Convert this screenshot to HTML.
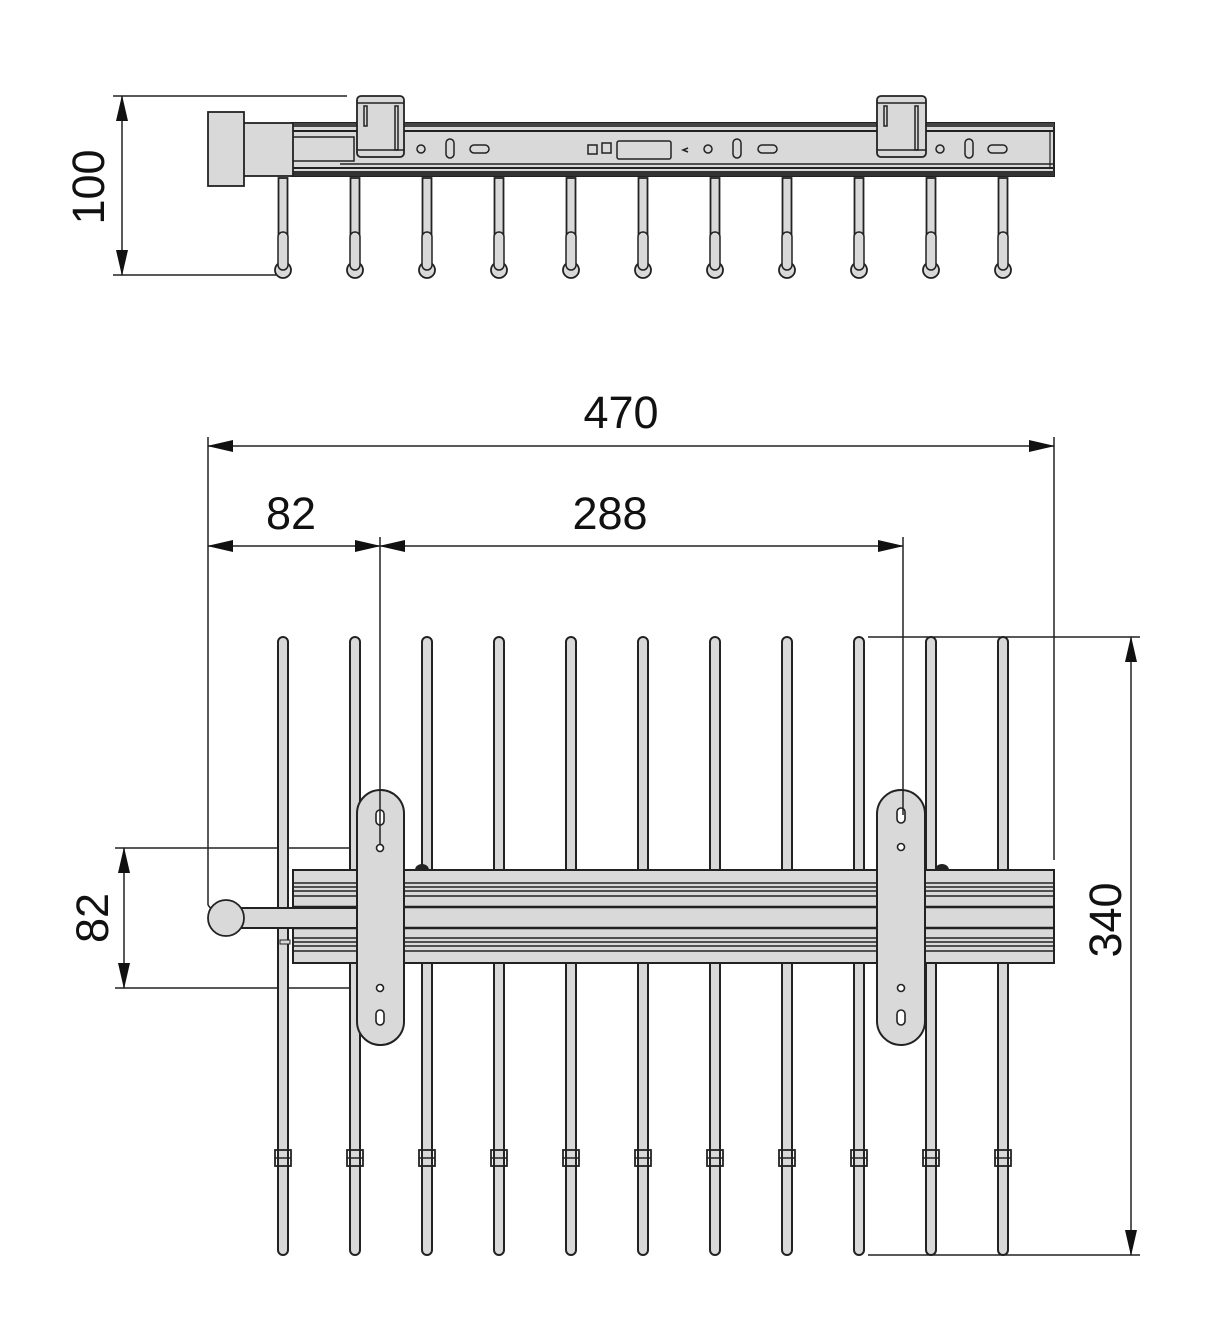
<!DOCTYPE html>
<html><head><meta charset="utf-8"><style>
html,body{margin:0;padding:0;background:#fff;}
svg{display:block;}
text{font-family:"Liberation Sans","DejaVu Sans",sans-serif;font-size:45px;fill:#111;}
</style></head><body>
<svg width="1223" height="1344" viewBox="0 0 1223 1344" xmlns="http://www.w3.org/2000/svg">
<defs>
  <g id="rodB">
    <rect x="-5" y="637" width="10" height="618" rx="5" fill="#d9d9d9" stroke="#222" stroke-width="2"/>
    <rect x="-8" y="1150" width="16" height="16" fill="none" stroke="#222" stroke-width="1.8"/>
    <line x1="-8" y1="1158" x2="8" y2="1158" stroke="#222" stroke-width="1.5"/>
    <rect x="-6" y="722" width="2" height="4" fill="#222"/>
    <rect x="4" y="722" width="2" height="4" fill="#222"/>
  </g>
  <g id="rodT">
    <rect x="-4.5" y="178" width="9" height="92" fill="#d9d9d9" stroke="#222" stroke-width="1.8"/>
    <circle cx="0" cy="270" r="8" fill="#d9d9d9" stroke="#222" stroke-width="1.8"/>
    <rect x="-5" y="232" width="10" height="38" rx="5" fill="#d9d9d9" stroke="#222" stroke-width="1.5"/>
  </g>
  <marker id="ar" markerWidth="26" markerHeight="12" refX="25" refY="6" orient="auto-start-reverse" markerUnits="userSpaceOnUse">
    <path d="M0 0 L26 6 L0 12 Z" fill="#111"/>
  </marker>
</defs>

<!-- ===== TOP VIEW ===== -->
<g stroke="#222" stroke-width="1.5">
  <line x1="113" y1="96" x2="347" y2="96"/>
  <line x1="113" y1="275" x2="276" y2="275"/>
  <line x1="122" y1="96" x2="122" y2="275" marker-start="url(#ar)" marker-end="url(#ar)"/>
</g>
<text transform="translate(104,187) rotate(-90)" text-anchor="middle">100</text>

<use href="#rodT" x="283"/><use href="#rodT" x="355"/><use href="#rodT" x="427"/><use href="#rodT" x="499"/>
<use href="#rodT" x="571"/><use href="#rodT" x="643"/><use href="#rodT" x="715"/><use href="#rodT" x="787"/>
<use href="#rodT" x="859"/><use href="#rodT" x="931"/><use href="#rodT" x="1003"/>

<!-- rail top view -->
<rect x="292" y="123" width="762" height="53" fill="#d9d9d9" stroke="#222" stroke-width="2"/>
<rect x="292" y="123" width="762" height="4" fill="#444"/>
<line x1="292" y1="131" x2="1054" y2="131" stroke="#222" stroke-width="2"/>
<line x1="340" y1="164" x2="1054" y2="164" stroke="#222" stroke-width="1.5"/>
<line x1="292" y1="168" x2="1054" y2="168" stroke="#222" stroke-width="2"/>
<rect x="292" y="171" width="762" height="5" fill="#333"/>
<rect x="292" y="137" width="62" height="24" fill="#d9d9d9" stroke="#222" stroke-width="1.5"/>
<line x1="1050" y1="131" x2="1050" y2="168" stroke="#222" stroke-width="1.2"/>
<rect x="243" y="123" width="50" height="53" fill="#d9d9d9" stroke="#222" stroke-width="1.8"/>
<rect x="208" y="112" width="36" height="74" fill="#d9d9d9" stroke="#222" stroke-width="1.8"/>
<!-- clips -->
<g fill="#d9d9d9" stroke="#222" stroke-width="1.8">
  <rect x="357" y="96" width="47" height="61" rx="4"/>
  <rect x="877" y="96" width="49" height="61" rx="4"/>
</g>
<g stroke="#222" stroke-width="1.5" fill="none">
  <line x1="357" y1="103" x2="404" y2="103"/><line x1="877" y1="103" x2="926" y2="103"/>
  <line x1="357" y1="150" x2="404" y2="150"/><line x1="877" y1="150" x2="926" y2="150"/>
  <rect x="364" y="106" width="3" height="20"/><rect x="395" y="106" width="3" height="44"/>
  <rect x="884" y="106" width="3" height="20"/><rect x="915" y="106" width="3" height="44"/>
  <circle cx="421" cy="149" r="4"/><rect x="446" y="139" width="8" height="19" rx="4"/><rect x="470" y="145" width="19" height="8" rx="4"/>
  <circle cx="708" cy="149" r="4"/><rect x="733" y="139" width="8" height="19" rx="4"/><rect x="758" y="145" width="19" height="8" rx="4"/>
  <circle cx="940" cy="149" r="4"/><rect x="965" y="139" width="8" height="19" rx="4"/><rect x="988" y="145" width="19" height="8" rx="4"/>
  <rect x="588" y="145" width="9" height="9"/><rect x="602" y="143" width="9" height="10"/>
  <rect x="617" y="141" width="54" height="18" rx="2"/>
  <path d="M688 148 L683 150 L688 152"/>
</g>

<!-- ===== BOTTOM VIEW ===== -->
<g stroke="#222" stroke-width="1.5" fill="none">
  <line x1="208" y1="437" x2="208" y2="905"/>
  <line x1="208" y1="905" x2="212" y2="910"/>
  <line x1="1054" y1="437" x2="1054" y2="860"/>
  <line x1="208" y1="446" x2="1054" y2="446" marker-start="url(#ar)" marker-end="url(#ar)"/>
  <line x1="208" y1="546" x2="380" y2="546" marker-start="url(#ar)" marker-end="url(#ar)"/>
  <line x1="380" y1="546" x2="903" y2="546" marker-start="url(#ar)" marker-end="url(#ar)"/>
  <line x1="380" y1="537" x2="380" y2="845"/>
  <line x1="903" y1="537" x2="903" y2="815"/>
  <line x1="868" y1="637" x2="1140" y2="637"/>
  <line x1="868" y1="1255" x2="1140" y2="1255"/>
  <line x1="1131" y1="637" x2="1131" y2="1255" marker-start="url(#ar)" marker-end="url(#ar)"/>
  <line x1="115" y1="848" x2="380" y2="848"/>
  <line x1="115" y1="988" x2="380" y2="988"/>
  <line x1="124" y1="848" x2="124" y2="988" marker-start="url(#ar)" marker-end="url(#ar)"/>
</g>
<text x="621" y="428" text-anchor="middle">470</text>
<text x="291" y="529" text-anchor="middle">82</text>
<text x="610" y="529" text-anchor="middle">288</text>
<text transform="translate(1121,920) rotate(-90)" text-anchor="middle">340</text>
<text transform="translate(108,918) rotate(-90)" text-anchor="middle">82</text>

<use href="#rodB" x="283"/><use href="#rodB" x="355"/><use href="#rodB" x="427"/><use href="#rodB" x="499"/>
<use href="#rodB" x="571"/><use href="#rodB" x="643"/><use href="#rodB" x="715"/><use href="#rodB" x="787"/>
<use href="#rodB" x="859"/><use href="#rodB" x="931"/><use href="#rodB" x="1003"/>

<!-- rail -->
<rect x="293" y="870" width="761" height="93" fill="#d9d9d9" stroke="#222" stroke-width="2"/>
<g stroke="#222" stroke-width="1.6">
  <line x1="293" y1="883" x2="1054" y2="883"/><line x1="293" y1="887" x2="1054" y2="887"/>
  <line x1="293" y1="891" x2="1054" y2="891"/><line x1="293" y1="896" x2="1054" y2="896"/>
  <line x1="293" y1="907" x2="1054" y2="907" stroke-width="2.5"/>
  <line x1="293" y1="928" x2="1054" y2="928" stroke-width="2.5"/>
  <line x1="293" y1="938" x2="1054" y2="938"/><line x1="293" y1="942" x2="1054" y2="942"/>
  <line x1="293" y1="946" x2="1054" y2="946"/><line x1="293" y1="951" x2="1054" y2="951"/>
</g>
<rect x="280" y="940" width="10" height="4" fill="#d9d9d9" stroke="#222" stroke-width="1"/>
<path d="M415 870 A7 6 0 0 1 429 870 Z" fill="#222"/>
<path d="M935 870 A7 6 0 0 1 949 870 Z" fill="#222"/>
<!-- knob -->
<rect x="240" y="908" width="120" height="20" fill="#d9d9d9" stroke="#222" stroke-width="2"/>
<circle cx="226" cy="918" r="18" fill="#d9d9d9" stroke="#222" stroke-width="1.8"/>
<!-- brackets -->
<rect x="357" y="790" width="47" height="255" rx="23.5" fill="#d9d9d9" stroke="#222" stroke-width="2"/>
<rect x="877" y="790" width="48" height="255" rx="24" fill="#d9d9d9" stroke="#222" stroke-width="2"/>
<g fill="#fff" stroke="#222" stroke-width="1.6">
  <rect x="376" y="810" width="8" height="15" rx="4"/><circle cx="380" cy="848" r="3.5"/>
  <circle cx="380" cy="988" r="3.5"/><rect x="376" y="1010" width="8" height="15" rx="4"/>
  <rect x="897" y="808" width="8" height="15" rx="4"/><circle cx="901" cy="847" r="3.5"/>
  <circle cx="901" cy="988" r="3.5"/><rect x="897" y="1010" width="8" height="15" rx="4"/>
</g>
<line x1="380" y1="790" x2="380" y2="845" stroke="#222" stroke-width="1.5"/>
<line x1="903" y1="790" x2="903" y2="815" stroke="#222" stroke-width="1.5"/>
</svg>
</body></html>
